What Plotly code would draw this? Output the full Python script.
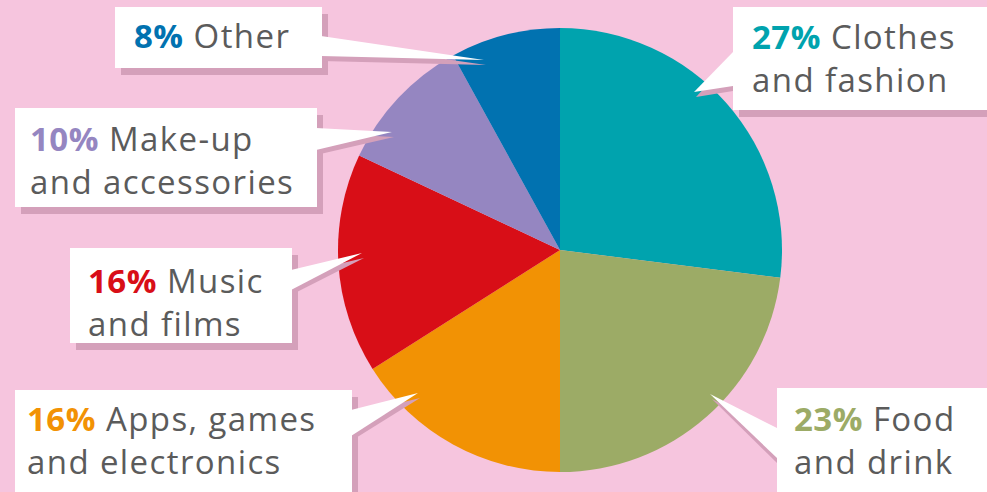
import plotly.graph_objects as go

categories = ["Clothes and fashion", "Food and drink", "Apps, games and electronics",
              "Music and films", "Make-up and accessories", "Other"]
values = [27, 23, 16, 16, 10, 8]
colors = ["#00A3AE", "#9CAB66", "#F29204", "#D80E17", "#9586C1", "#0172B0"]
label_lines = [("Clothes", "and fashion"), ("Food", "and drink"), ("Apps, games", "and electronics"),
               ("Music", "and films"), ("Make-up", "and accessories"), ("Other", None)]

W, H = 987, 492
BG = "#F6C5DE"
SHADOW = "#D4A0BA"
TEXT = "#5B5B5B"
FS = 33
LS = "letter-spacing:1.4px"

def px(x):
    return x / W

def py(y):
    return 1 - y / H

# Label layout in pixels: box (x0,y0,x1,y1), text left x, baselines, pointer base (x, y1, y2), tip (x, y)
layout_info = [
    dict(box=(733, 7, 995, 110), tx=750, bl=(47, 91), base=(733, 52, 86), tip=(694, 92)),
    dict(box=(777, 388, 995, 500), tx=792, bl=(430, 472), base=(777, 428, 458), tip=(710, 394)),
    dict(box=(15, 390, 352, 500), tx=25, bl=(430, 472), base=(351, 410, 436), tip=(418, 393)),
    dict(box=(70, 248, 292, 343), tx=86, bl=(292, 333), base=(291, 270, 290), tip=(362, 253)),
    dict(box=(15, 108, 317, 207), tx=28, bl=(150, 192), base=(316, 128, 150), tip=(392, 132)),
    dict(box=(115, 7, 322, 68), tx=132, bl=(46, None), base=(321, 36, 56), tip=(484, 60)),
]

fig = go.Figure(go.Pie(
    labels=categories, values=values, sort=False, direction="clockwise", rotation=0,
    marker=dict(colors=colors, line=dict(width=0)), textinfo="none", showlegend=False,
    domain=dict(x=[px(560 - 222), px(560 + 222)], y=[py(472), py(28)]),
))

shapes = []
annotations = []
for i, info in enumerate(layout_info):
    x0, y0, x1, y1 = info["box"]
    bx, by1, by2 = info["base"]
    tx_, ty_ = info["tip"]
    # shadows
    shapes.append(dict(type="rect", xref="paper", yref="paper", x0=px(x0 + 6), x1=px(x1 + 6),
                       y0=py(y1 + 7), y1=py(y0 + 7), fillcolor=SHADOW, line=dict(width=0), layer="above"))
    shapes.append(dict(type="path", xref="paper", yref="paper",
                       path=f"M {px(bx)},{py(by1 + 5)} L {px(tx_ + 2)},{py(ty_ + 5)} L {px(bx)},{py(by2 + 5)} Z",
                       fillcolor=SHADOW, line=dict(width=0), layer="above"))
    # box and pointer
    shapes.append(dict(type="rect", xref="paper", yref="paper", x0=px(x0), x1=px(x1),
                       y0=py(y1), y1=py(y0), fillcolor="white", line=dict(width=0), layer="above"))
    shapes.append(dict(type="path", xref="paper", yref="paper",
                       path=f"M {px(bx)},{py(by1)} L {px(tx_)},{py(ty_)} L {px(bx)},{py(by2)} Z",
                       fillcolor="white", line=dict(width=0), layer="above"))
    l1, l2 = label_lines[i]
    b1, b2 = info["bl"]
    txt = (f"<span style='color:{colors[i]};letter-spacing:0.5px'><b>{values[i]}%</b></span>"
           f"<span style='{LS}'> {l1}</span>")
    if l2:
        txt += f"<br><span style='{LS}'>{l2}</span>"
        yc = (b1 + b2) / 2 - 11
    else:
        yc = b1 - 11
    annotations.append(dict(xref="paper", yref="paper", x=px(info["tx"]), y=py(yc),
                            xanchor="left", yanchor="middle", align="left", showarrow=False,
                            text=txt, font=dict(family="Open Sans", size=FS, color=TEXT)))

fig.update_layout(width=W, height=H, margin=dict(l=0, r=0, t=0, b=0),
                  paper_bgcolor=BG, plot_bgcolor=BG, shapes=shapes, annotations=annotations)

fig.write_html("out.html")
